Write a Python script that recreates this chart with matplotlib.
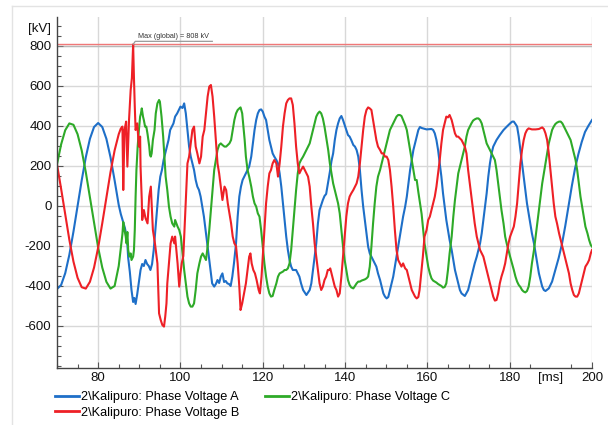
import numpy as np
import matplotlib
matplotlib.use("Agg")
import matplotlib.pyplot as plt
import matplotlib.patheffects as pe
from matplotlib.lines import Line2D
from matplotlib.transforms import Affine2D, ScaledTranslation

plt.rcParams["font.family"] = ["Liberation Sans", "DejaVu Sans"]

# (time [ms], voltage [kV])
PHASE_A = [
    (70, -415), (71, -395), (72, -336), (73, -244), (74, -128), (75, 0), (76, 128), (77, 244),
    (78, 336), (79, 395), (80, 415), (81, 395), (82, 336), (83, 244), (84, 128), (85, 5),
    (85.5, -40), (86, -75), (86.5, -110), (87, -160), (87.3, -260), (87.7, -330), (88.1, -420),
    (88.5, -480), (88.8, -460), (89.1, -490), (89.5, -440), (89.9, -380), (90.3, -320),
    (90.7, -290), (91.1, -300), (91.5, -270), (91.9, -290), (92.3, -300), (92.7, -320),
    (93.1, -290), (93.5, -220), (93.9, -120), (94.3, -20), (94.7, 80), (95.1, 147), (95.5, 180),
    (95.9, 230), (96.3, 263), (96.7, 297), (97.1, 330), (97.5, 380), (97.9, 397), (98.3, 413),
    (98.7, 447), (99.2, 463), (99.6, 480), (100.0, 497), (100.5, 490), (100.9, 513), (101.3, 463),
    (101.7, 380), (102.1, 297), (102.5, 247), (102.9, 213), (103.3, 180), (103.7, 130),
    (104.1, 97), (104.5, 80), (104.9, 47), (105.3, -3), (105.7, -53), (106.1, -120),
    (106.5, -187), (106.9, -253), (107.3, -320), (107.7, -387), (108.2, -403), (108.6, -390),
    (109.0, -370), (109.4, -385), (109.8, -353), (110.2, -337), (110.6, -380), (111.0, -375),
    (111.4, -387), (111.8, -390), (112.2, -400), (112.6, -353), (113.0, -287), (113.5, -187),
    (113.9, -53), (114.3, 47), (114.7, 97), (115.1, 130), (115.5, 147), (115.9, 163),
    (116.3, 180), (116.7, 197), (117.2, 247), (117.6, 313), (118.0, 380), (118.4, 430),
    (118.8, 463), (119.2, 480), (119.6, 483), (120.0, 472), (120.4, 447), (120.8, 430),
    (121.2, 380), (121.6, 330), (122.0, 297), (122.4, 263), (122.8, 247), (123.3, 230),
    (123.7, 213), (124.1, 163), (124.5, 97), (124.9, 13), (125.3, -70), (125.7, -153),
    (126.1, -220), (126.5, -270), (126.9, -303), (127.3, -320), (128.1, -320), (128.5, -337),
    (128.9, -353), (129.3, -387), (129.8, -420), (130.6, -445), (131.4, -420), (131.8, -387),
    (132.2, -320), (132.6, -253), (133.0, -187), (133.4, -87), (133.8, -20), (134.6, 30),
    (135.0, 50), (135.4, 60), (135.9, 120), (136.3, 170), (136.7, 225), (137.1, 263),
    (137.5, 330), (137.9, 380), (138.3, 413), (138.7, 438), (139.1, 450), (139.5, 430),
    (139.9, 405), (140.3, 380), (140.7, 355), (141.1, 347), (141.5, 330), (142.0, 305),
    (142.4, 297), (142.8, 280), (143.2, 247), (143.6, 180), (144.0, 80), (144.4, -3),
    (144.8, -70), (145.2, -137), (145.6, -203), (146.0, -237), (146.4, -253), (146.8, -270),
    (147.2, -287), (147.6, -303), (148.0, -337), (148.5, -370), (148.9, -403), (149.3, -437),
    (149.7, -453), (150.1, -462), (150.5, -455), (150.9, -420), (151.3, -387), (151.7, -353),
    (152.1, -303), (152.5, -253), (152.9, -203), (153.3, -153), (153.7, -103), (154.1, -53),
    (154.6, -3), (155.0, 47), (155.4, 113), (155.8, 180), (156.2, 230), (156.6, 280),
    (157.0, 313), (157.4, 347), (157.8, 380), (158.2, 395), (158.6, 390), (159.8, 383),
    (161.0, 385), (161.4, 380), (161.8, 363), (162.2, 330), (162.6, 280), (163.0, 213),
    (163.4, 147), (163.8, 63), (164.2, -3), (164.6, -70), (165.0, -120), (165.4, -170),
    (165.9, -220), (166.3, -270), (166.7, -320), (167.1, -353), (167.5, -387), (167.9, -420),
    (168.3, -437), (169.1, -450), (169.9, -420), (170.3, -387), (170.7, -353), (171.1, -320),
    (171.5, -287), (172.0, -253), (172.4, -220), (172.8, -187), (173.2, -137), (173.6, -70),
    (174.0, -3), (174.4, 63), (174.8, 147), (175.2, 213), (175.6, 263), (176.0, 297),
    (176.8, 330), (177.6, 355), (178.5, 380), (179.3, 397), (180.1, 413), (180.6, 422),
    (181.0, 422), (181.4, 410), (181.8, 397), (182.2, 347), (182.6, 280), (183.0, 213),
    (183.4, 147), (183.8, 80), (184.2, 13), (184.6, -37), (185.0, -87), (185.4, -137),
    (185.9, -187), (186.3, -237), (186.7, -287), (187.1, -337), (187.5, -370), (187.9, -403),
    (188.3, -420), (188.7, -425), (189.5, -412), (190.3, -378), (191.1, -320), (191.9, -260),
    (192.7, -190), (193.5, -100), (194.3, 0), (195.1, 100), (195.9, 190), (196.7, 260),
    (197.5, 320), (198.3, 370), (199.1, 400), (200.0, 430),
]

PHASE_B = [
    (70, 208), (71, 86), (72, -43), (73, -169), (74, -278), (75, -359), (76, -406), (77, -413),
    (78, -379), (79, -308), (80, -208), (81, -86), (82, 43), (83, 169), (84, 278), (85, 359),
    (85.5, 387), (85.9, 397), (86.1, 80), (86.4, 380), (86.8, 422), (87.1, 197), (87.5, 430),
    (87.9, 580), (88.2, 640), (88.5, 808), (88.7, 640), (88.9, 497), (89.1, 380), (89.5, 413),
    (89.9, 297), (90.2, 347), (90.3, 197), (90.6, 30), (90.7, -70), (91.1, -20), (91.5, -60),
    (92.0, -87), (92.4, 47), (92.8, 97), (93.0, 13), (93.3, -120), (93.8, -187), (94.4, -287),
    (94.8, -537), (95.2, -570), (95.6, -595), (96.0, -603), (96.3, -553), (96.6, -487),
    (96.8, -387), (97.2, -287), (97.6, -187), (98.0, -153), (98.5, -187), (98.7, -153),
    (99.0, -220), (99.3, -287), (99.7, -403), (100.0, -337), (100.3, -287), (100.7, -250),
    (101.2, -20), (101.7, 213), (102.1, 247), (102.9, 380), (103.3, 397), (103.7, 297),
    (104.1, 263), (104.6, 213), (105.0, 247), (105.4, 347), (105.8, 380), (106.2, 463),
    (106.6, 547), (107.0, 597), (107.4, 605), (107.8, 547), (108.2, 447), (108.6, 330),
    (109.0, 213), (109.4, 163), (109.8, 97), (110.2, 30), (110.7, 97), (111.1, 80), (111.5, 13),
    (111.9, -37), (112.3, -87), (112.7, -153), (113.1, -187), (113.5, -200), (113.9, -287),
    (114.3, -403), (114.6, -520), (115.0, -487), (115.3, -453), (115.6, -420), (115.9, -387),
    (116.3, -320), (116.7, -253), (117.0, -237), (117.3, -287), (117.7, -320), (118.1, -337),
    (118.5, -370), (119.0, -420), (119.3, -437), (119.7, -353), (120.0, -253), (120.4, -120),
    (120.8, 13), (121.2, 97), (121.6, 163), (122.0, 180), (122.4, 213), (122.8, 230),
    (123.3, 213), (123.7, 147), (124.1, 213), (124.5, 297), (124.9, 397), (125.3, 463),
    (125.7, 513), (126.1, 530), (126.5, 538), (126.9, 538), (127.3, 505), (127.7, 413),
    (128.1, 297), (128.5, 213), (128.9, 163), (129.3, 180), (129.8, 197), (130.2, 180),
    (130.6, 163), (131.0, 147), (131.4, 97), (131.8, -3), (132.2, -87), (132.6, -187),
    (133.0, -253), (133.4, -320), (133.8, -387), (134.2, -420), (134.6, -403), (135.0, -370),
    (135.4, -353), (135.8, -320), (136.1, -320), (136.4, -312), (136.9, -353), (137.5, -403),
    (137.9, -420), (138.3, -453), (138.7, -437), (139.1, -353), (139.5, -253), (139.9, -153),
    (140.3, -53), (140.7, 13), (141.1, 47), (141.5, 63), (142.0, 80), (142.4, 97), (142.8, 113),
    (143.2, 147), (143.6, 213), (144.0, 297), (144.4, 380), (144.8, 447), (145.2, 480),
    (145.6, 493), (146.0, 488), (146.4, 480), (146.8, 430), (147.2, 380), (147.6, 330),
    (148.0, 297), (148.5, 280), (148.9, 263), (149.3, 263), (149.7, 247), (150.1, 247),
    (150.5, 230), (150.9, 180), (151.3, 97), (151.7, -3), (152.1, -120), (152.5, -220),
    (152.9, -270), (153.3, -287), (153.7, -303), (154.1, -287), (154.6, -312), (155.0, -320),
    (155.4, -353), (155.8, -387), (156.2, -420), (156.6, -437), (157.0, -453), (157.4, -462),
    (157.8, -455), (158.1, -420), (158.5, -337), (158.9, -253), (159.3, -153), (159.8, -120),
    (160.2, -70), (160.6, -53), (161.0, -20), (161.4, 13), (161.8, 47), (162.2, 97),
    (162.6, 163), (163.0, 230), (163.4, 313), (163.8, 380), (164.2, 413), (164.6, 447),
    (165.0, 443), (165.4, 455), (165.9, 430), (166.3, 397), (166.7, 363), (167.1, 347),
    (167.5, 347), (167.9, 338), (168.3, 330), (168.7, 313), (169.1, 297), (169.5, 263),
    (169.9, 180), (170.3, 113), (170.7, 47), (171.1, -20), (171.5, -87), (172.0, -153),
    (172.4, -187), (172.8, -220), (173.2, -237), (173.6, -253), (174.0, -287), (174.4, -320),
    (174.8, -353), (175.2, -387), (175.6, -420), (176.0, -453), (176.4, -473), (176.8, -470),
    (177.2, -437), (177.6, -387), (178.0, -353), (178.5, -320), (178.9, -287), (179.3, -237),
    (179.7, -187), (180.1, -153), (181.0, -103), (181.4, -53), (181.8, 13), (182.2, 113),
    (182.6, 213), (183.0, 280), (183.4, 330), (183.8, 363), (184.2, 380), (184.6, 388),
    (185.4, 383), (186.3, 383), (187.1, 385), (187.9, 393), (188.3, 385), (188.7, 363),
    (189.1, 330), (189.5, 263), (189.9, 180), (190.3, 97), (190.7, 13), (191.1, -53),
    (191.5, -87), (192.0, -137), (192.4, -170), (192.8, -203), (193.2, -237), (193.6, -270),
    (194.0, -303), (194.4, -337), (194.8, -387), (195.2, -420), (195.6, -445), (196.0, -453),
    (196.4, -453), (196.8, -437), (197.2, -403), (197.6, -370), (198.0, -337), (198.4, -303),
    (198.9, -287), (199.3, -270), (199.7, -237), (200.0, -220),
]

PHASE_C = [
    (70, 208), (71, 308), (72, 379), (73, 413), (74, 406), (75, 359), (76, 278), (77, 169),
    (78, 43), (79, -86), (80, -208), (81, -308), (82, -379), (83, -413), (84, -400), (85, -300),
    (85.9, -140), (86.1, -80), (86.4, -120), (86.7, -153), (86.9, -187), (87.1, -130),
    (87.3, -220), (87.6, -253), (87.9, -237), (88.1, -270), (88.5, -253), (88.7, -220),
    (88.9, -120), (89.1, 47), (89.3, 180), (89.6, 297), (89.9, 380), (90.2, 447), (90.4, 463),
    (90.6, 488), (90.9, 447), (91.1, 430), (91.4, 397), (91.7, 397), (92.0, 360), (92.4, 300),
    (92.6, 255), (92.8, 247), (93.0, 263), (93.3, 330), (93.7, 380), (94.0, 463), (94.4, 513),
    (94.8, 530), (95.0, 522), (95.4, 447), (95.8, 347), (96.1, 247), (96.4, 147), (96.8, 80),
    (97.2, -3), (97.6, -53), (98.0, -87), (98.5, -103), (98.7, -70), (99.0, -87), (99.3, -103),
    (99.7, -120), (100.1, -153), (100.5, -237), (100.9, -320), (101.3, -387), (101.7, -453),
    (102.1, -487), (102.5, -503), (102.9, -503), (103.3, -487), (103.7, -420), (104.1, -337),
    (104.6, -287), (105.0, -253), (105.4, -237), (105.8, -253), (106.2, -270), (106.6, -203),
    (107.0, -120), (107.4, -20), (107.8, 80), (108.2, 180), (108.6, 230), (109.0, 280),
    (109.4, 305), (109.8, 313), (110.2, 305), (110.7, 297), (111.1, 297), (111.5, 305),
    (111.9, 313), (112.3, 330), (112.7, 380), (113.1, 430), (113.5, 463), (113.9, 480),
    (114.3, 488), (114.6, 493), (115.0, 463), (115.3, 397), (115.6, 330), (115.9, 247),
    (116.3, 180), (116.7, 147), (117.2, 97), (117.6, 47), (118.0, 13), (118.4, -3),
    (118.8, -37), (119.2, -53), (119.6, -120), (120.0, -203), (120.4, -287), (120.8, -353),
    (121.2, -403), (121.6, -437), (122.0, -453), (122.4, -450), (122.8, -420), (123.3, -387),
    (123.7, -353), (124.1, -337), (124.9, -328), (125.3, -320), (125.7, -320), (126.1, -312),
    (126.5, -287), (126.9, -220), (127.3, -120), (127.7, -20), (128.1, 80), (128.5, 163),
    (128.9, 213), (129.3, 230), (129.8, 247), (130.2, 263), (130.6, 280), (131.0, 297),
    (131.4, 313), (131.8, 347), (132.2, 380), (132.6, 413), (133.0, 447), (133.4, 463),
    (133.8, 472), (134.2, 463), (134.6, 438), (135.0, 397), (135.4, 345), (135.9, 280),
    (136.3, 213), (136.7, 163), (137.1, 113), (137.5, 80), (137.9, 47), (138.3, 13),
    (138.7, -37), (139.1, -120), (139.5, -203), (139.9, -270), (140.3, -320), (140.7, -370),
    (141.1, -395), (141.5, -407), (142.0, -412), (142.4, -400), (142.8, -387), (143.2, -378),
    (143.6, -378), (144.0, -373), (144.4, -370), (144.8, -367), (145.2, -362), (145.6, -353),
    (146.0, -303), (146.4, -203), (146.8, -87), (147.2, 13), (147.6, 97), (148.0, 147),
    (148.5, 180), (148.9, 213), (149.3, 247), (149.7, 280), (150.1, 313), (150.5, 347),
    (150.9, 380), (151.3, 397), (151.7, 413), (152.1, 430), (152.5, 447), (152.9, 455),
    (153.3, 455), (153.7, 450), (154.1, 430), (154.6, 405), (155.0, 380), (155.4, 330),
    (155.8, 280), (156.2, 230), (156.6, 180), (157.0, 130), (157.4, 130), (157.8, 70),
    (158.2, 15), (158.6, -40), (158.9, -103), (159.3, -187), (159.8, -253), (160.2, -303),
    (160.6, -337), (161.0, -362), (161.4, -373), (161.8, -378), (162.2, -383), (162.6, -390),
    (163.0, -395), (163.4, -400), (163.8, -408), (164.2, -405), (164.6, -387), (165.0, -320),
    (165.4, -237), (165.9, -153), (166.3, -53), (166.7, 30), (167.1, 97), (167.5, 163),
    (167.9, 197), (168.3, 230), (168.7, 263), (169.1, 297), (169.5, 347), (169.9, 380),
    (170.3, 397), (170.7, 413), (171.1, 427), (171.5, 433), (172.0, 438), (172.4, 438),
    (172.8, 430), (173.2, 413), (173.6, 380), (174.0, 347), (174.4, 313), (174.8, 297),
    (175.2, 280), (175.6, 263), (176.0, 247), (176.4, 230), (176.8, 180), (177.2, 113),
    (177.6, 47), (178.0, -20), (178.5, -87), (178.9, -153), (179.3, -190), (179.7, -220),
    (180.1, -253), (180.6, -290), (181.0, -320), (181.4, -353), (181.8, -378), (182.2, -395),
    (182.6, -405), (183.0, -420), (183.4, -428), (183.8, -432), (184.2, -425), (184.6, -403),
    (185.0, -353), (185.4, -287), (185.9, -220), (186.3, -153), (186.7, -87), (187.1, -20),
    (187.5, 47), (187.9, 113), (188.3, 163), (188.7, 213), (189.1, 263), (189.5, 313),
    (189.9, 347), (190.3, 380), (190.7, 397), (191.1, 410), (191.5, 417), (192.0, 422),
    (192.4, 422), (192.8, 413), (193.2, 397), (193.6, 380), (194.0, 363), (194.4, 347),
    (194.8, 330), (195.2, 297), (195.6, 263), (196.0, 230), (196.4, 180), (196.8, 113),
    (197.2, 47), (197.6, -3), (198.0, -53), (198.4, -103), (198.9, -137), (199.3, -170),
    (199.7, -195), (200.0, -203),
]

LABELS = ["2\\Kalipuro: Phase Voltage A", "2\\Kalipuro: Phase Voltage B",
          "2\\Kalipuro: Phase Voltage C"]
COLORS = ["#1e6fc8", "#ee2026", "#2eaa28"]
MAX_KV = 808
X_TICKS = [80, 100, 120, 140, 160, 180, 200]
Y_TICKS = [-600, -400, -200, 0, 200, 400, 600, 800]

fig = plt.figure(figsize=(6.08, 4.25), dpi=100)
ax = fig.add_axes([57 / 608, 1 - 368 / 425, 535 / 608, 351 / 425])

# light frame round the whole picture
fig.add_artist(Line2D([12 / 608, 12 / 608], [0, 1 - 6 / 425], transform=fig.transFigure,
                      color="#e3e3e3", lw=1))
fig.add_artist(Line2D([12 / 608, 1], [1 - 6 / 425, 1 - 6 / 425], transform=fig.transFigure,
                      color="#e3e3e3", lw=1))

lines = {}
for idx in (0, 2, 1):
    data = np.array([PHASE_A, PHASE_B, PHASE_C][idx])
    lines[idx], = ax.plot(data[:, 0], data[:, 1], color=COLORS[idx], lw=1.5,
                          solid_joinstyle="round", label=LABELS[idx])

# global maximum marker
ax.axhline(MAX_KV, color="#f07878", lw=1, zorder=1.5,
           path_effects=[pe.SimpleLineShadow(offset=(0, -1.2), shadow_color="#999999",
                                             alpha=0.5), pe.Normal()])
red = np.array(PHASE_B)
t_peak = red[np.argmax(red[:, 1]), 0]
pt = Affine2D().scale(fig.dpi / 72) + ScaledTranslation(t_peak, MAX_KV, ax.transData)
ax.add_line(Line2D([0, 1.5, 57], [0, 2.2, 2.2], transform=pt, color="#9a9a9a", lw=0.9,
                   clip_on=False))
ax.annotate(f"Max (global) = {MAX_KV} kV", xy=(t_peak, MAX_KV), xytext=(3.5, 3.2),
            textcoords="offset points", fontsize=5.2, color="#333333", va="bottom", ha="left")

ax.set_xlim(70, 200)
ax.set_ylim(-810, 945)
ax.set_xticks(X_TICKS + [190])
ax.set_xticklabels([str(v) for v in X_TICKS] + ["[ms]"])
ax.set_yticks(Y_TICKS + [890])
ax.set_yticklabels([str(v) for v in Y_TICKS] + ["[kV]"])
ax.set_xticks(np.arange(70, 201, 5), minor=True)
ax.set_yticks(np.arange(-800, 901, 50), minor=True)
ax.tick_params(which="both", direction="in", colors="#555555", labelcolor="#111111",
               labelsize=9.5)
ax.tick_params(which="major", length=4, width=0.8)
ax.tick_params(which="minor", length=3, width=0.8)
ax.tick_params(axis="x", pad=3)
ax.tick_params(axis="y", pad=4)
ax.grid(True, which="major", color="#d8d8d8", lw=1)
ax.set_axisbelow(True)
for tick in (ax.xaxis.get_major_ticks()[-1], ax.yaxis.get_major_ticks()[-1]):
    tick.gridline.set_visible(False)
    tick.tick1line.set_visible(False)
for side in ("top", "right"):
    ax.spines[side].set_visible(False)
for side in ("left", "bottom"):
    ax.spines[side].set_color("#444444")
    ax.spines[side].set_linewidth(1)

fig.legend(handles=[lines[0], lines[1], lines[2]], loc="upper left", ncol=2,
           bbox_to_anchor=(55 / 608, 1 - 391 / 425), frameon=False, fontsize=9.2,
           handlelength=1.85, handletextpad=0.2, columnspacing=2.0, labelspacing=0.3,
           borderpad=0, borderaxespad=0)
for h in fig.legends[0].legend_handles:
    h.set_linewidth(2)

fig.savefig("out.png", dpi=100)
